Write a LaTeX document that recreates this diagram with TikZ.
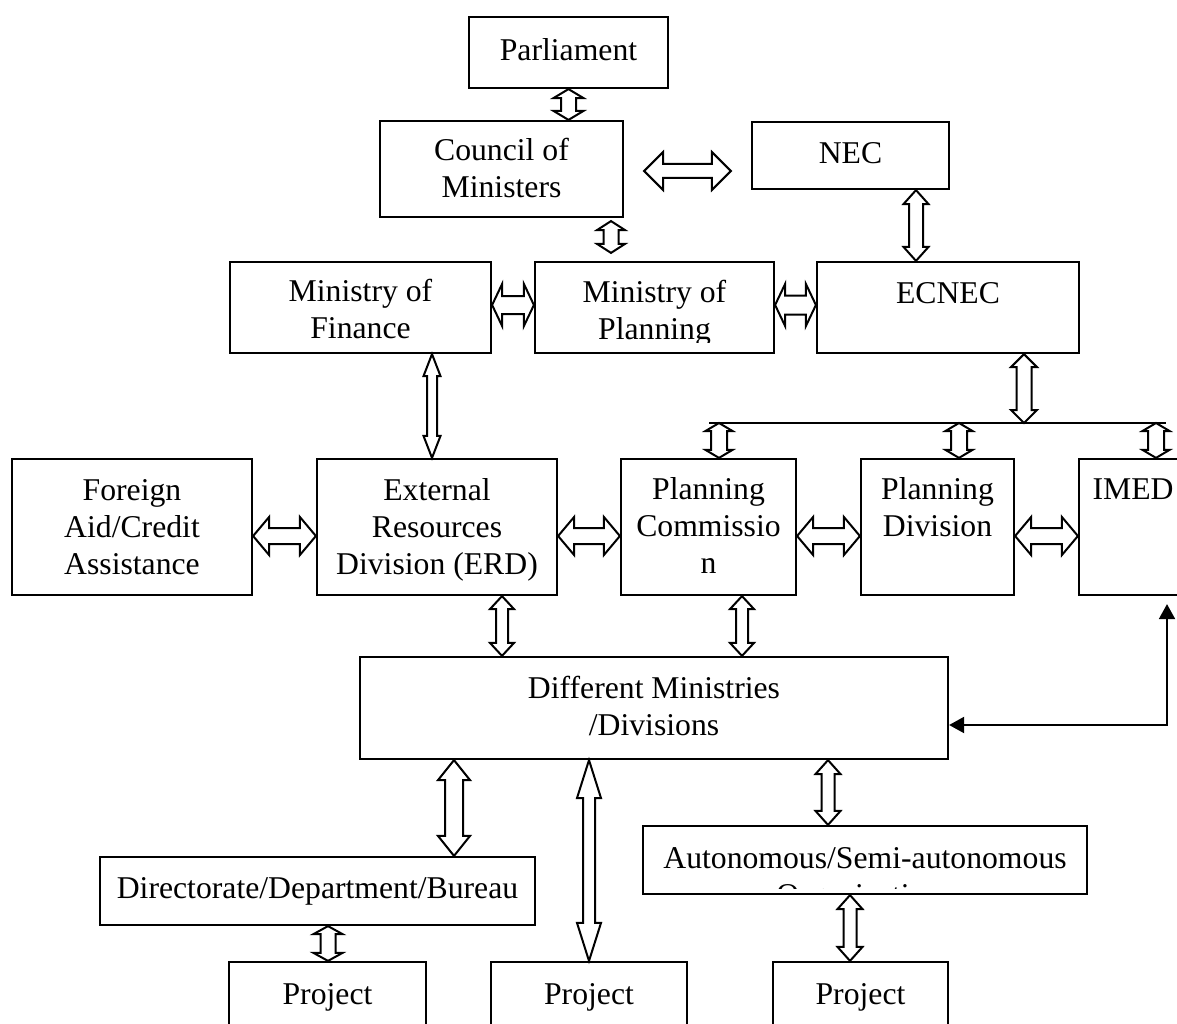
\documentclass[tikz,border=0pt]{standalone}
\usepackage{fontspec}
\setmainfont{Liberation Serif}
\usetikzlibrary{calc,arrows.meta}

% hollow double-headed block arrow between two named coordinates
% #1 start, #2 end, #3 shaft half-width, #4 head half-width, #5 head length
\newcommand{\dblarrow}[5]{%
  \draw[harrow] (#1)
    -- ($(#1)!#5!(#2)!#4!90:(#2)$)
    -- ($(#1)!#5!(#2)!#3!90:(#2)$)
    -- ($(#2)!#5!(#1)!#3!-90:(#1)$)
    -- ($(#2)!#5!(#1)!#4!-90:(#1)$)
    -- (#2)
    -- ($(#2)!#5!(#1)!#4!90:(#1)$)
    -- ($(#2)!#5!(#1)!#3!90:(#1)$)
    -- ($(#1)!#5!(#2)!#3!-90:(#2)$)
    -- ($(#1)!#5!(#2)!#4!-90:(#2)$)
    -- cycle;}

\begin{document}
\begin{tikzpicture}[x=1pt,y=-1pt,
  box/.style={draw, line width=2.2pt, inner sep=0pt, fill=white},
  txt/.style={inner sep=0pt, align=center, anchor=base,
    font=\fontsize{31.7pt}{37pt}\selectfont},
  harrow/.style={draw, fill=white, line width=2pt, line join=miter},
  conn/.style={draw, line width=2pt},
  solidtip/.tip={Triangle[length=15pt, width=16pt]}]

\useasboundingbox (0,0) rectangle (1177,1024);
\fill[white] (0,0) rectangle (1177,1024);
\clip (0,0) rectangle (1177,1024);

% ---------- boxes ----------
\node[box, minimum width=199pt, minimum height=71pt] (parl) at (568.5,52.5) {};
\node[box, minimum width=243pt, minimum height=96pt] (com) at (501.5,169) {};
\node[box, minimum width=197pt, minimum height=67pt] (nec) at (850.5,155.5) {};
\node[box, minimum width=261pt, minimum height=91pt] (mof) at (360.5,307.5) {};
\node[box, minimum width=239pt, minimum height=91pt] (mop) at (654.5,307.5) {};
\node[box, minimum width=262pt, minimum height=91pt] (ecnec) at (948,307.5) {};
\node[box, minimum width=240pt, minimum height=136pt] (fa) at (132,527) {};
\node[box, minimum width=240pt, minimum height=136pt] (erd) at (437,527) {};
\node[box, minimum width=175pt, minimum height=136pt] (pc) at (708.5,527) {};
\node[box, minimum width=153pt, minimum height=136pt] (pd) at (937.5,527) {};
\node[box, minimum width=110pt, minimum height=136pt] (imed) at (1134,527) {};
\node[box, minimum width=588pt, minimum height=102pt] (dm) at (654,708) {};
\node[box, minimum width=435pt, minimum height=68pt] (dir) at (317.5,891) {};
\node[box, minimum width=444pt, minimum height=68pt] (auto) at (865,860) {};
\node[box, minimum width=197pt, minimum height=78pt] (pr1) at (327.5,1001) {};
\node[box, minimum width=196pt, minimum height=78pt] (pr2) at (589,1001) {};
\node[box, minimum width=175pt, minimum height=78pt] (pr3) at (860.5,1001) {};

% ---------- texts (anchor = baseline of the last line) ----------
\node[txt] (parlT) at (568.5,61) {Parliament};
\node[txt] (comT) at (501.5,198) {Council of\\Ministers};
\node[txt] (necT) at (850.5,164) {NEC};
\node[txt] (mofT) at (360.5,338) {Ministry of\\Finance};
\begin{scope}
  \clip (536,263) rectangle (773,342);
  \node[txt] (mopT) at (654.5,339) {Ministry of\\Planning};
\end{scope}
\node[txt] (ecnecT) at (948,303) {ECNEC};
\node[txt] (faT) at (132,574) {Foreign\\Aid/Credit\\Assistance};
\node[txt] (erdT) at (437,574) {External\\Resources\\Division (ERD)};
\node[txt] (pcT) at (708.5,573) {Planning\\Commissio\\n};
\node[txt] (pdT) at (937.5,536) {Planning\\Division};
\node[txt] (imedT) at (1133,499) {IMED};
\node[txt] (dmT) at (654,735) {Different Ministries\\/Divisions};
\node[txt] (dirT) at (317.5,898) {Directorate/Department/Bureau};
\begin{scope}
  \clip (644,827) rectangle (1086,888);
  \node[txt] (autoT) at (865,905) {Autonomous/Semi-autonomous\\Organizations};
\end{scope}
\node[txt] (pr1T) at (327.5,1004) {Project};
\node[txt] (pr2T) at (589,1004) {Project};
\node[txt] (pr3T) at (860.5,1004) {Project};

% ---------- connector end points ----------
\coordinate (a1s) at (parl.south);
\coordinate (a1e) at (parl.south |- com.north);
\coordinate (a2s) at ($(com.east)+(20,2)$);
\coordinate (a2e) at ($(nec.west)+(-20,15.5)$);
\coordinate (a3s) at ($(com.south)+(109.5,3)$);
\coordinate (a3e) at ($(mop.north)+(-43.5,-8)$);
\coordinate (a4s) at ($(nec.south)+(65.5,0)$);
\coordinate (a4e) at ($(ecnec.north)+(-32,0)$);
\coordinate (a5s) at ($(mof.east)+(0,-2.5)$);
\coordinate (a5e) at ($(mop.west)+(0,-2.5)$);
\coordinate (a6s) at ($(mop.east)+(0,-2.5)$);
\coordinate (a6e) at ($(ecnec.west)+(0,-2.5)$);
\coordinate (a7s) at ($(mof.south)+(71.5,0)$);
\coordinate (a7e) at ($(erd.north)+(-5,0)$);
\coordinate (busL) at (709,423);
\coordinate (busR) at (1166,423);
\coordinate (a8s) at ($(ecnec.south)+(76,0)$);
\coordinate (a8e) at (a8s |- busL);
\coordinate (a9e) at ($(pc.north)+(10.5,0)$);
\coordinate (a9s) at (a9e |- busL);
\coordinate (a10e) at ($(pd.north)+(21.5,0)$);
\coordinate (a10s) at (a10e |- busL);
\coordinate (a11e) at ($(imed.north)+(22,0)$);
\coordinate (a11s) at (a11e |- busL);
\coordinate (a12s) at ($(fa.east)+(0,9)$);
\coordinate (a12e) at ($(erd.west)+(0,9)$);
\coordinate (a13s) at ($(erd.east)+(0,9)$);
\coordinate (a13e) at ($(pc.west)+(0,9)$);
\coordinate (a14s) at ($(pc.east)+(0,9)$);
\coordinate (a14e) at ($(pd.west)+(0,9)$);
\coordinate (a15s) at ($(pd.east)+(0,9)$);
\coordinate (a15e) at ($(imed.west)+(0,9)$);
\coordinate (a16s) at ($(erd.south)+(65,0)$);
\coordinate (a16e) at ($(dm.north)+(-152,0)$);
\coordinate (a17s) at ($(pc.south)+(33.5,0)$);
\coordinate (a17e) at ($(dm.north)+(88,0)$);
\coordinate (a18s) at ($(dm.south)+(-200,0)$);
\coordinate (a18e) at ($(dir.north)+(136.5,0)$);
\coordinate (a19s) at ($(dm.south)+(-65,0)$);
\coordinate (a19e) at (pr2.north);
\coordinate (a20s) at ($(dm.south)+(174,0)$);
\coordinate (a20e) at ($(auto.north)+(-37,0)$);
\coordinate (a21s) at ($(auto.south)+(-15,0)$);
\coordinate (a21e) at ($(pr3.north)+(-10.5,0)$);
\coordinate (a22s) at ($(dir.south)+(10.5,0)$);
\coordinate (a22e) at ($(pr1.north)+(0.5,0)$);
\coordinate (c1) at (1167,725);

% ---------- connectors ----------
\draw[conn] (busL) -- (busR);
\dblarrow{a1s}{a1e}{7.5pt}{15pt}{9pt}
\dblarrow{a2s}{a2e}{7pt}{19pt}{19pt}
\dblarrow{a3s}{a3e}{7.5pt}{14pt}{9pt}
\dblarrow{a4s}{a4e}{7pt}{12.5pt}{14pt}
\dblarrow{a5s}{a5e}{9pt}{21pt}{10pt}
\dblarrow{a6s}{a6e}{9.5pt}{21pt}{10pt}
\dblarrow{a7s}{a7e}{5pt}{8.5pt}{22pt}
\dblarrow{a8s}{a8e}{7.5pt}{13pt}{13pt}
\dblarrow{a9s}{a9e}{8pt}{13.5pt}{8pt}
\dblarrow{a10s}{a10e}{8pt}{13.5pt}{8pt}
\dblarrow{a11s}{a11e}{8pt}{13.5pt}{8pt}
\dblarrow{a12s}{a12e}{8pt}{19pt}{16pt}
\dblarrow{a13s}{a13e}{8pt}{19pt}{16pt}
\dblarrow{a14s}{a14e}{8pt}{19pt}{16pt}
\dblarrow{a15s}{a15e}{8pt}{19pt}{16pt}
\dblarrow{a16s}{a16e}{6pt}{12pt}{13pt}
\dblarrow{a17s}{a17e}{6pt}{12pt}{13pt}
\dblarrow{a18s}{a18e}{9pt}{16pt}{20pt}
\dblarrow{a19s}{a19e}{6pt}{12pt}{38pt}
\dblarrow{a20s}{a20e}{6.5pt}{12.5pt}{14pt}
\dblarrow{a21s}{a21e}{6.5pt}{12.5pt}{14pt}
\dblarrow{a22s}{a22e}{7.5pt}{14.5pt}{8pt}

\draw[conn, solidtip-solidtip, shorten >=8pt] (dm.east |- c1) -- (c1) -- (c1 |- imed.south);
\end{tikzpicture}
\end{document}
